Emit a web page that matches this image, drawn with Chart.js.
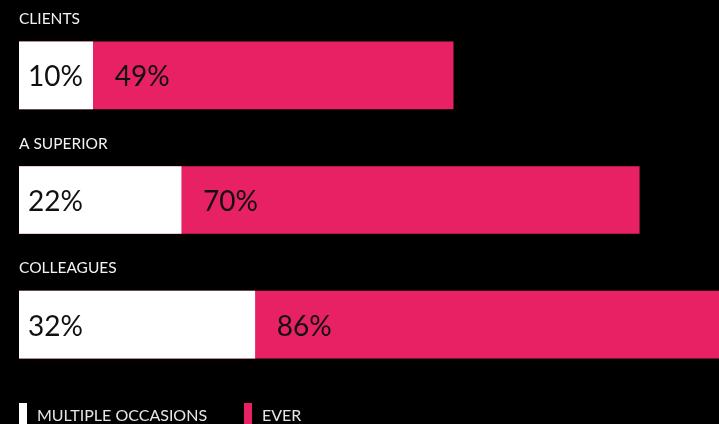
<!DOCTYPE html>
<html>
<head>
<meta charset="utf-8">
<script src="https://cdn.jsdelivr.net/npm/chart.js@4"></script>
<style>
    html, body { margin: 0; padding: 0; background: #000; }
    #wrap { width: 719px; height: 424px; position: relative; }
</style>
</head>
<body>
<div id="wrap"><canvas id="myChart"></canvas></div>
<script>
var categorias = ['CLIENTS', 'A SUPERIOR', 'COLLEAGUES'];
var varias = [10, 22, 32];
var alguma = [49, 70, 86];
var series = ['MULTIPLE OCCASIONS', 'EVER'];

var branco = '#ffffff';
var rosa = 'rgb(232, 32, 100)';
var fonte = 'Lato, "Open Sans", sans-serif';

// rótulos das categorias, valores dentro das barras e legenda
var rotulos = {
    id: 'rotulos',
    afterDatasetsDraw: function (chart) {
        var c = chart.ctx;
        var metaB = chart.getDatasetMeta(0);
        var metaR = chart.getDatasetMeta(1);
        c.save();
        metaB.data.forEach(function (barB, i) {
            var barR = metaR.data[i];
            var topo = barB.y - barB.height / 2;
            c.fillStyle = '#f2f2f2';
            c.font = '15.5px ' + fonte;
            c.textAlign = 'left';
            c.textBaseline = 'alphabetic';
            c.fillText(categorias[i], barB.base, topo - 18);

            c.fillStyle = '#111';
            c.font = '28px ' + fonte;
            c.textBaseline = 'middle';
            c.fillText(varias[i] + '%', barB.base + 9, barB.y + 2);
            c.fillText(alguma[i] + '%', barB.x + 22, barR.y + 2);
        });

        // legenda
        var x = 19;
        var y = 403;
        c.font = '16px ' + fonte;
        c.textBaseline = 'top';
        chart.data.datasets.forEach(function (ds) {
            c.fillStyle = ds.backgroundColor;
            c.fillRect(x, y, 8, 22);
            c.fillStyle = '#e6e6e6';
            c.fillText(ds.label, x + 18, y + 5);
            x += 225;
        });
        c.restore();
    }
};

window.onload = function () {
    graficos();
};

function graficos() {
    var ctx = document.getElementById('myChart');

    var myChart = new Chart(ctx, {
        type: 'bar',
        data: {
            labels: categorias,
            datasets: [{
                label: series[0],
                data: varias,
                backgroundColor: branco,
                xAxisID: 'x2',
                grouped: false,
                order: 0,
                barThickness: 67
            }, {
                label: series[1],
                data: alguma,
                backgroundColor: rosa,
                xAxisID: 'x',
                grouped: false,
                order: 1,
                barThickness: 67
            }]
        },
        options: {
            indexAxis: 'y',
            responsive: true,
            maintainAspectRatio: false,
            animation: false,
            layout: { padding: { top: 13, bottom: 37, left: 19, right: 0 } },
            scales: {
                x: { display: false, min: 0, max: 79 },
                x2: { display: false, min: 0, max: 95 },
                y: { display: false }
            },
            plugins: {
                legend: { display: false },
                tooltip: { enabled: false }
            }
        },
        plugins: [rotulos]
    });
}
</script>
</body>
</html>
